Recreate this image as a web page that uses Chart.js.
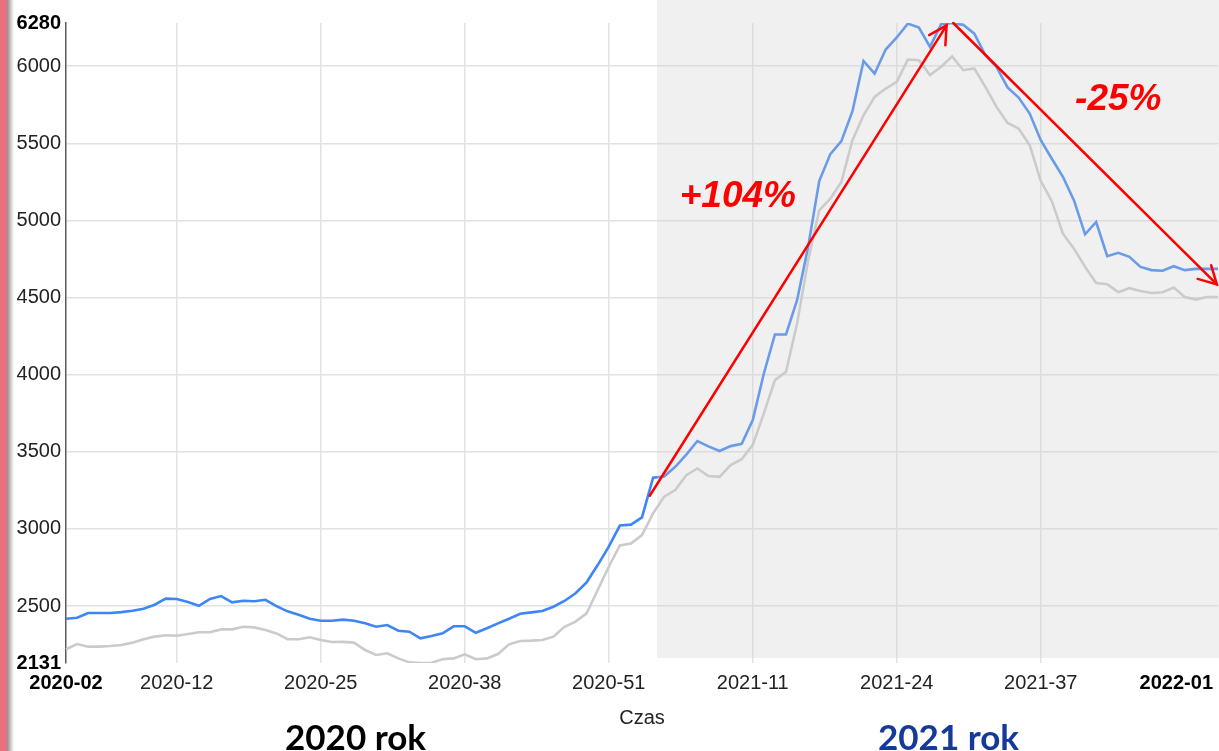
<!DOCTYPE html>
<html><head><meta charset="utf-8">
<script src="https://cdn.jsdelivr.net/npm/chart.js@4/dist/chart.umd.min.js"></script>
<style>
html,body{margin:0;padding:0;background:#fff;overflow:hidden;}
#wrap{position:relative;width:1219px;height:751px;}
canvas{position:absolute;left:0;top:0;}
.edge{position:absolute;left:0;top:0;width:7px;height:751px;background:#e8707f;}
.shadow{position:absolute;left:7px;top:0;width:7px;height:751px;background:linear-gradient(to right,#8c8c8c,#ffffff);}
.year{position:absolute;font-family:Lato,'Open Sans',sans-serif;font-weight:700;font-size:35px;line-height:35px;white-space:nowrap;}
</style></head>
<body><div id="wrap"><canvas id="c" width="1219" height="751"></canvas>
<div class="edge"></div><div class="shadow"></div>
<div class="year" style="left:285px;top:719px;color:#000">2020 rok</div>
<div class="year" style="left:878px;top:719px;color:#163a99">2021 rok</div>
</div>
<script>
// categories: ISO weeks 2020-02 .. 2022-01
const weeks = [];
for (let w = 2; w <= 53; w++) weeks.push('2020-' + String(w).padStart(2, '0'));
for (let w = 1; w <= 52; w++) weeks.push('2021-' + String(w).padStart(2, '0'));
weeks.push('2022-01');

const blueSeries = [2418,2424,2455,2455,2455,2461,2470,2483,2509,2548,
  2546,2526,2502,2546,2565,2524,2535,2531,2541,2500,
  2466,2444,2418,2405,2405,2412,2405,2388,2366,2377,
  2340,2334,2291,2306,2323,2369,2369,2327,2356,2388,
  2418,2450,2459,2468,2496,2533,2583,2654,2766,2885,
  3022,3028,3075,3333,3340,3403,3482,3570,3535,3505,
  3537,3552,3706,4008,4261,4261,4483,4829,5255,5430,
  5514,5708,6034,5952,6108,6186,6276,6250,6125,6272,
  6280,6268,6211,6071,5995,5862,5797,5693,5520,5400,
  5283,5130,4910,4990,4768,4790,4764,4699,4678,4674,
  4703,4678,4686,4686,4686];

const graySeries = [2220,2254,2237,2237,2241,2248,2263,2285,2302,2311,
  2308,2319,2330,2330,2349,2349,2366,2362,2345,2323,
  2285,2285,2298,2280,2267,2268,2263,2215,2183,2194,
  2161,2135,2131,2133,2155,2161,2187,2155,2161,2189,
  2252,2274,2276,2280,2302,2366,2399,2453,2604,2755,
  2893,2905,2960,3101,3209,3252,3349,3392,3343,3338,
  3414,3452,3545,3749,3965,4019,4332,4742,5066,5141,
  5250,5520,5682,5801,5855,5898,6043,6039,5942,5996,
  6064,5974,5985,5866,5736,5632,5596,5488,5255,5125,
  4914,4817,4699,4595,4587,4535,4561,4543,4530,4535,
  4565,4504,4487,4504,4504];

const xTickLabels = ['2020-02','2020-12','2020-25','2020-38','2020-51','2021-11','2021-24','2021-37','2022-01'];
const yTickValues = [2131,2500,3000,3500,4000,4500,5000,5500,6000,6280];
const yMin = 2131, yMax = 6280;
const shadeFromWeek = 53.35;
const arrows = [{from:[52.7,3215], to:[79.5,6265]}, {from:[80.1,6280], to:[103.9,4585]}];
const notes = [{text:'+104%', x:60.65, y:5151}, {text:'-25%', x:95.0, y:5779}];

const FONT = '"Liberation Sans", Arial, sans-serif';

const annotate = {
  id: 'annotate',
  afterDatasetsDraw(chart) {
    const {ctx, chartArea, scales} = chart;
    const x0 = scales.x.getPixelForValue(shadeFromWeek);
    ctx.save();
    ctx.fillStyle = 'rgba(205,205,205,0.3)';
    ctx.fillRect(x0, 0, chart.width - x0, chartArea.bottom - 5);
    ctx.restore();
  },
  afterDraw(chart) {
    const {ctx, chartArea, scales} = chart;
    const xs = scales.x, ys = scales.y;
    ctx.save();
    const lastIdx = weeks.length - 1;
    ctx.font = 'bold 20px ' + FONT;
    ctx.fillStyle = '#000';
    ctx.textAlign = 'right';
    ctx.textBaseline = 'middle';
    ctx.fillText(weeks[lastIdx], xs.getPixelForValue(lastIdx) - 5, chartArea.bottom + 20);
    ctx.strokeStyle = '#ff0000';
    ctx.lineWidth = 2.5;
    ctx.lineCap = 'round';
    arrows.forEach(a => {
      const x1 = xs.getPixelForValue(a.from[0]), y1 = ys.getPixelForValue(a.from[1]);
      const x2 = xs.getPixelForValue(a.to[0]), y2 = ys.getPixelForValue(a.to[1]);
      ctx.beginPath(); ctx.moveTo(x1, y1); ctx.lineTo(x2, y2); ctx.stroke();
      const ang = Math.atan2(y1 - y2, x1 - x2);
      const L = 20, spread = 0.5;
      ctx.beginPath();
      ctx.moveTo(x2 + L * Math.cos(ang + spread), y2 + L * Math.sin(ang + spread));
      ctx.lineTo(x2, y2);
      ctx.lineTo(x2 + L * Math.cos(ang - spread), y2 + L * Math.sin(ang - spread));
      ctx.stroke();
    });
    ctx.fillStyle = '#ff0000';
    ctx.font = 'italic bold 37px ' + FONT;
    ctx.textAlign = 'center';
    ctx.textBaseline = 'middle';
    notes.forEach(n => ctx.fillText(n.text, xs.getPixelForValue(n.x), ys.getPixelForValue(n.y)));
    ctx.restore();
  }
};

new Chart(document.getElementById('c'), {
  type: 'line',
  data: {
    labels: weeks,
    datasets: [
      {data: blueSeries, borderColor: '#3e86f5', borderWidth: 2.6, pointRadius: 0, tension: 0, fill: false},
      {data: graySeries, borderColor: '#cbcbcb', borderWidth: 2.6, pointRadius: 0, tension: 0, fill: false}
    ]
  },
  options: {
    responsive: false,
    devicePixelRatio: 1,
    animation: false,
    layout: {padding: {left: 0, right: 1, top: 23, bottom: 0}},
    plugins: {legend: {display: false}, tooltip: {enabled: false}, title: {display: false}},
    scales: {
      x: {
        type: 'category',
        offset: false,
        afterBuildTicks: s => { s.ticks = s.ticks.filter(t => xTickLabels.includes(weeks[t.value])); },
        afterFit: s => { s.height = 88; s.paddingRight = 0; s.paddingLeft = 0; },
        border: {display: false},
        grid: {
          offset: false, drawTicks: false, lineWidth: 1.5,
          color: c => (c.tick && (c.tick.value === 0 || c.tick.value === weeks.length - 1)) ? 'rgba(0,0,0,0)' : '#e2e2e2'
        },
        ticks: {
          autoSkip: false, maxRotation: 0, padding: 8,
          color: c => (c.tick && c.tick.value === 0) ? '#000' : '#222',
          font: c => ({family: FONT, size: 20, weight: (c.tick && c.tick.value === 0) ? 'bold' : 'normal'}),
          callback: function (v) { const l = this.getLabelForValue(v); return l === weeks[weeks.length - 1] ? '' : l; }
        },
        title: {display: true, text: 'Czas', color: '#222', font: {family: FONT, size: 20}, padding: {top: 0, bottom: 21}}
      },
      y: {
        min: yMin, max: yMax,
        afterBuildTicks: s => { s.ticks = yTickValues.map(v => ({value: v})); },
        afterFit: s => { s.width = 66; },
        border: {display: true, color: '#5a5a5a', width: 1.5},
        grid: {
          drawTicks: false, lineWidth: 1.5,
          color: c => (c.tick && (c.tick.value === yMin || c.tick.value === yMax)) ? 'rgba(0,0,0,0)' : '#e2e2e2'
        },
        ticks: {
          padding: 5,
          color: c => (c.tick && (c.tick.value === yMin || c.tick.value === yMax)) ? '#000' : '#222',
          font: c => ({family: FONT, size: 20, weight: (c.tick && (c.tick.value === yMin || c.tick.value === yMax)) ? 'bold' : 'normal'}),
          callback: v => String(v)
        }
      }
    }
  },
  plugins: [annotate]
});
</script>
</body></html>
